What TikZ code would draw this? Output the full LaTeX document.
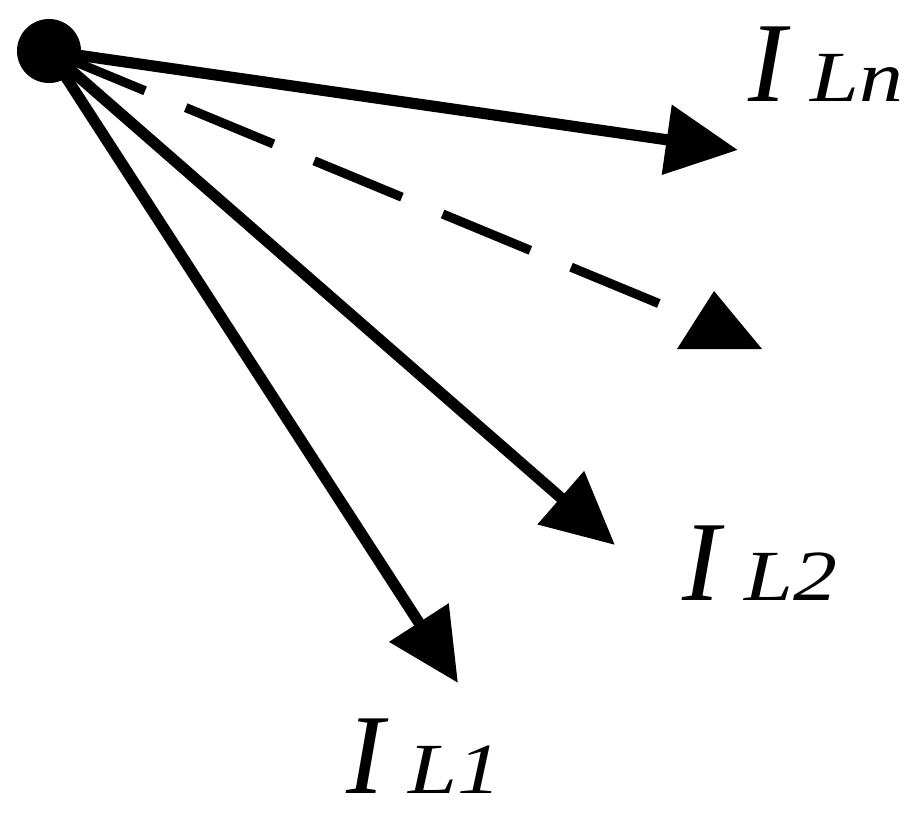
\documentclass[tikz,border=0pt]{standalone}
\usepackage{graphicx}
\usepackage{fontspec}
\setmainfont{Liberation Serif}
\usetikzlibrary{arrows.meta}
\tikzset{
  solidarrow/.style={line width=5.6pt, -{Triangle[length=36pt,width=34pt]}},
  dashline/.style={line width=4.6pt, dash pattern=on 47.5pt off 22pt, dash phase=65pt},
  lbl/.style={inner sep=0pt, anchor=base west},
}
\newcommand{\curlabel}[1]{{\fontsize{57}{57}\selectfont\itshape I}\hspace{12pt}\scalebox{1.22}[1]{\fontsize{36}{36}\selectfont\itshape #1}}
\begin{document}
\begin{tikzpicture}[x=0.5pt,y=-0.5pt]
\useasboundingbox (0,0) rectangle (922,827);
\node[circle, fill=black, minimum size=32pt, inner sep=0pt] (o) at (49,51) {};
\coordinate (tn) at (738,150);
\coordinate (t2) at (615,545);
\coordinate (t1) at (458,683);
\coordinate (td) at (660,304);
\coordinate (ha) at (714,291);
\coordinate (hb) at (677,349);
\coordinate (hc) at (762,349);
\draw[solidarrow] (o.center) -- (tn);
\draw[solidarrow] (o.center) -- (t2);
\draw[solidarrow] (o.center) -- (t1);
\draw[dashline] (o.center) -- (td);
\fill (ha) -- (hb) -- (hc) -- cycle;
\node[lbl] (ln) at (748,101) {\curlabel{Ln}};
\node[lbl] (l2) at (682,600) {\curlabel{L2}};
\node[lbl] (l1) at (346,793) {\curlabel{L1}};
\end{tikzpicture}
\end{document}
